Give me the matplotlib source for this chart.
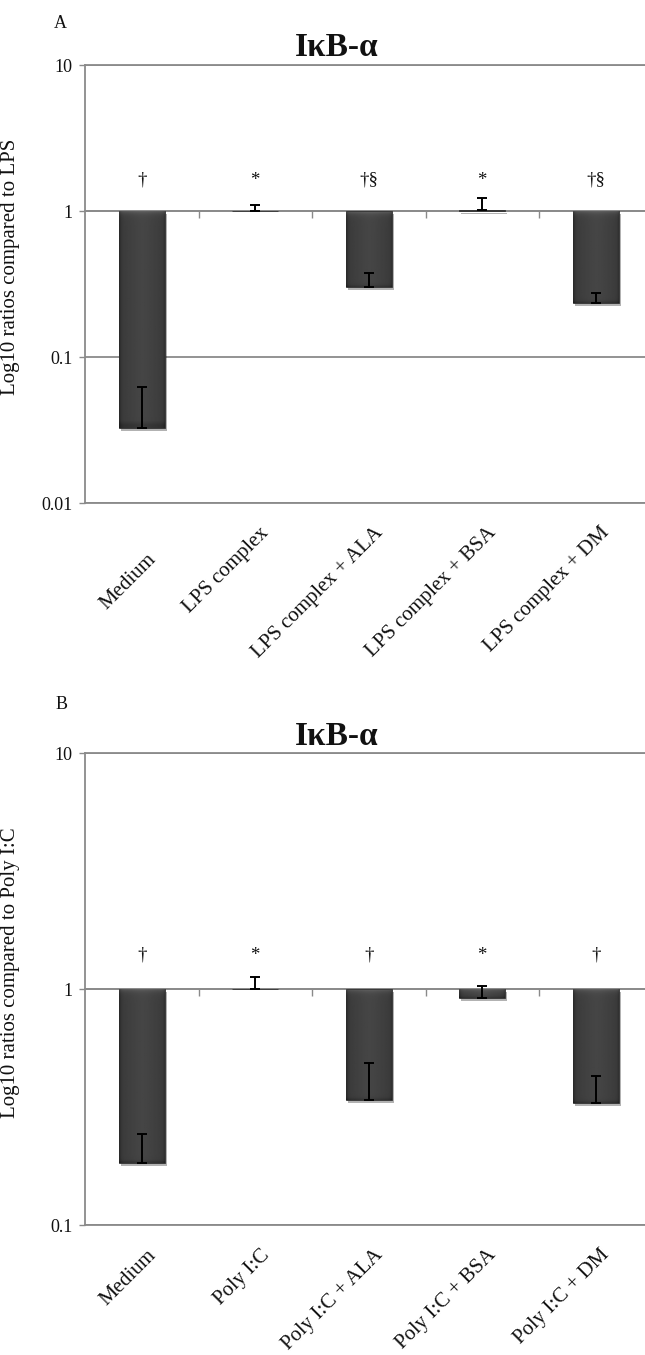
import matplotlib
matplotlib.use('Agg')
import matplotlib.pyplot as plt
import matplotlib.patheffects as pe
from matplotlib.ticker import FixedLocator, FuncFormatter, NullLocator
import numpy as np

plt.rcParams['font.family'] = ['Liberation Serif', 'DejaVu Serif']

title = 'IκB-α'

cats_a = ['Medium', 'LPS complex', 'LPS complex + ALA', 'LPS complex + BSA', 'LPS complex + DM']
vals_a = [0.0325, 1.0, 0.303, 1.01, 0.233]
errs_a = [0.030, 0.10, 0.075, 0.22, 0.040]
marks_a = ['†', '*', '†§', '*', '†§']
ylabel_a = 'Log10 ratios compared to LPS'
yticks_a = [0.01, 0.1, 1, 10]

cats_b = ['Medium', 'Poly I:C', 'Poly I:C + ALA', 'Poly I:C + BSA', 'Poly I:C + DM']
vals_b = [0.1825, 1.0, 0.339, 0.913, 0.328]
errs_b = [0.061, 0.12, 0.148, 0.12, 0.10]
marks_b = ['†', '*', '†', '*', '†']
ylabel_b = 'Log10 ratios compared to Poly I:C'
yticks_b = [0.1, 1, 10]

W, H = 645, 1355
GRAY = '#8a8a8a'
BAR = '#3c3c3c'

fig = plt.figure(figsize=(W / 100, H / 100), dpi=100)


def shade_bar(ax, patch):
    """Overlay a soft bevel gradient on a bar, computed in screen pixels."""
    x0 = patch.get_x()
    x1 = x0 + patch.get_width()
    yb, yt = sorted([patch.get_y(), patch.get_y() + patch.get_height()])
    p_top = ax.transData.transform((x0, yt))
    p_bot = ax.transData.transform((x1, yb))
    hpx = p_top[1] - p_bot[1]
    wpx = p_bot[0] - p_top[0]
    if hpx < 4:
        return
    N, M = 400, 60
    ys = np.linspace(yt, yb, N)
    d = p_top[1] - ax.transData.transform(np.column_stack([np.full(N, x0), ys]))[:, 1]
    dbot = d[-1] - d
    xs = np.linspace(0, 1, M)
    dx = np.minimum(xs, 1 - xs) * wpx
    col = 0.235 + 0.035 * np.exp(-((xs - 0.5) / 0.3) ** 2) - 0.07 * np.exp(-dx / 1.5)
    row = 0.17 * np.exp(-d / 2.5) - 0.05 * np.exp(-dbot / 1.5)
    img = np.clip(col[None, :] + row[:, None], 0, 1)
    ax.imshow(img, cmap='gray', vmin=0, vmax=1, extent=[x0, x1, yb, yt], origin='upper',
              aspect='auto', interpolation='bilinear', zorder=3.2)


def panel(ax, cats, vals, errs, marks, yticks, ylabel, mark_y, ylabel_y, title_y, label_shift):
    x = np.arange(len(cats))
    ax.set_yscale('log')
    ax.set_ylim(yticks[0], yticks[-1])
    ax.set_xlim(-0.5, len(cats) - 0.5)

    heights = [v - 1 for v in vals]
    bars = ax.bar(x, heights, bottom=1, width=0.406, color=BAR,
                  edgecolor='#333333', linewidth=0.6, zorder=3)
    for b in bars:
        b.set_path_effects([pe.SimplePatchShadow(offset=(1.5, -2.2), shadow_rgbFace='black', alpha=0.3),
                            pe.Normal()])
        shade_bar(ax, b)
    ax.set_xlim(-0.5, len(cats) - 0.5)
    ax.set_ylim(yticks[0], yticks[-1])
    ax.errorbar(x, vals, yerr=[np.zeros(len(vals)), errs], fmt='none', ecolor='black',
                elinewidth=1.4, capsize=3.5, capthick=1.4, zorder=4)

    ax.yaxis.set_major_locator(FixedLocator(yticks))
    ax.yaxis.set_minor_locator(NullLocator())
    ax.yaxis.set_major_formatter(FuncFormatter(lambda v, p: f'{v:g}'))
    ax.yaxis.grid(True, color=GRAY, linewidth=1.3, zorder=0)
    ax.set_axisbelow(True)
    ax.tick_params(axis='y', direction='out', length=4, width=1, color=GRAY,
                   labelsize=13, pad=5, labelcolor='#111111')
    ax.set_xticks([])
    ax.spines['right'].set_visible(False)
    for s in ['left', 'top', 'bottom']:
        ax.spines[s].set_color(GRAY)
        ax.spines[s].set_linewidth(1.3)

    lo, hi = np.log10(yticks[0]), np.log10(yticks[-1])
    loc = (0 - lo) / (hi - lo)
    sec = ax.secondary_xaxis(loc)
    sec.set_alignment('bottom')
    sec.set_xticks(x[:-1] + 0.5)
    sec.tick_params(direction='out', length=5, width=1, color=GRAY, labelbottom=False)
    sec.spines['bottom'].set_color(GRAY)
    sec.spines['bottom'].set_linewidth(1.3)

    for i, m in enumerate(marks):
        ax.text(x[i], mark_y, m, ha='center', va='center', fontsize=13.5, color='#111111')

    for i, lab in enumerate(cats):
        dy = 20.5 + label_shift[i]
        ax.annotate(lab, xy=(x[i], 0), xycoords=ax.get_xaxis_transform(),
                    xytext=(4.5, -dy), textcoords='offset pixels', rotation=45,
                    ha='right', va='top', rotation_mode='anchor', fontsize=15,
                    color='#111111', annotation_clip=False)

    ax.set_ylabel(ylabel, fontsize=15, color='#111111')
    ax.yaxis.set_label_coords(-0.1145, ylabel_y)
    ax.text(0.444, title_y, title, transform=ax.transAxes, ha='center', va='center',
            fontsize=24, fontweight='bold', color='#111111')


axA = fig.add_axes([85 / W, 1 - 503 / H, 567.5 / W, 438 / H])
axB = fig.add_axes([85 / W, 1 - 1225 / H, 567.5 / W, 472 / H])

panel(axA, cats_a, vals_a, errs_a, marks_a, yticks_a, ylabel_a, 1.63, 0.540, 1.041,
      [26, 0, 0, 0, 0])
panel(axB, cats_b, vals_b, errs_b, marks_b, yticks_b, ylabel_b, 1.39, 0.534, 1.034,
      [0, 0, 0, 0, 0])

fig.text(60 / W, 1 - 23 / H, 'A', fontsize=13, ha='center', va='center', color='#111111')
fig.text(62 / W, 1 - 705 / H, 'B', fontsize=13, ha='center', va='center', color='#111111')

fig.savefig('out.png', dpi=100)
